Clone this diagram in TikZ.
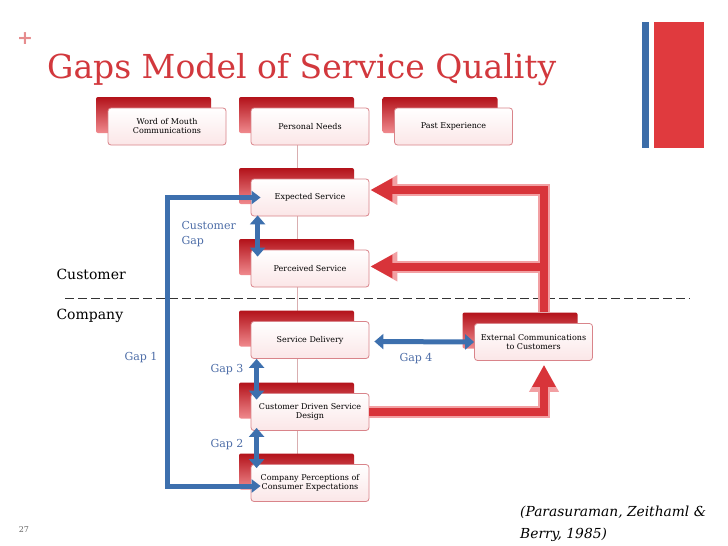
\documentclass[tikz,border=0pt]{standalone}
\usepackage{fontspec}
\setmainfont{DejaVu Serif}
\usetikzlibrary{arrows.meta,calc}
\pgfdeclarelayer{background}
\pgfsetlayers{background,main}
\definecolor{titlered}{HTML}{D2383D}
\definecolor{plusred}{HTML}{E68C8E}
\definecolor{barblue}{HTML}{3C6DA8}
\definecolor{barred}{HTML}{E03A3E}
\definecolor{backtop}{HTML}{B3121A}
\definecolor{backbot}{HTML}{F08A8E}
\definecolor{frontline}{HTML}{D9848A}
\definecolor{frontbot}{HTML}{FBE6E7}
\definecolor{gapblue}{HTML}{3D70AE}
\definecolor{labblue}{HTML}{4E6EA8}
\definecolor{arrred}{HTML}{D8343A}
\definecolor{arredge}{HTML}{F2A0A3}
\definecolor{thinpink}{HTML}{D9AEB0}
\tikzset{
  frontbox/.style={draw=frontline, line width=0.8pt, rounded corners=3pt,
    top color=white, bottom color=frontbot, minimum width=118pt, minimum height=37pt,
    align=center, inner sep=1pt, font=\fontsize{8}{9}\selectfont},
  redout/.style={line join=miter, draw=arredge, line width=12pt,
    -{Triangle[width=28pt,length=27pt]}},
  redcore/.style={line join=miter, draw=arrred, line width=8pt,
    -{Triangle[width=22pt,length=22pt]}},
  gaparrow/.style={draw=gapblue, line width=5pt,
    {Triangle[width=15pt,length=9pt]}-{Triangle[width=15pt,length=9pt]}},
  g1arrow/.style={draw=gapblue, line width=5pt, line join=miter,
    {Triangle[width=13pt,length=9pt]}-{Triangle[width=13pt,length=9pt]}},
  gaplabel/.style={text=labblue, font=\fontsize{11}{15}\selectfont, align=left},
  sidelabel/.style={text=black, font=\fontsize{14}{16}\selectfont, anchor=west},
  thinline/.style={draw=thinpink, line width=0.8pt},
  dashline/.style={draw=black!80, line width=0.9pt, dash pattern=on 9pt off 4pt}
}
\newcommand{\gapsbox}[4]{%
  \shade[top color=backtop, bottom color=backbot, rounded corners=2pt]
    (#2-71,#3-29.5) rectangle (#2+44,#3+6.5);
  \node[frontbox] (#1) at (#2,#3) {#4};
}
\begin{document}
\begin{tikzpicture}[x=1pt,y=-1pt]
\useasboundingbox (0,0) rectangle (728,546);
% title and decorations
\node[text=plusred, font=\bfseries\fontsize{19}{19}\selectfont] (plus) at (25,39) {+};
\node[text=titlered, anchor=base west, inner sep=0pt, font=\fontsize{33}{36}\selectfont] (title) at (47,78) {Gaps Model of Service Quality};
\fill[barblue] (642,22) rectangle (649,148);
\fill[barred] (654,22) rectangle (704,148);
% boxes
\gapsbox{wom}{167}{126.5}{Word of Mouth\\Communications}
\gapsbox{pn}{310}{126.5}{Personal Needs}
\gapsbox{pe}{453.5}{126.5}{Past Experience}
\gapsbox{es}{310}{197.5}{Expected Service}
\gapsbox{ps}{310}{268.5}{Perceived Service}
\gapsbox{sd}{310}{340}{Service Delivery}
\gapsbox{ec}{533.5}{342}{External Communications\\to Customers}
\gapsbox{cd}{310}{412}{Customer Driven Service\\Design}
\gapsbox{cp}{310}{483}{Company Perceptions of\\Consumer Expectations}
% background layer
\begin{pgfonlayer}{background}
\fill[white] (0,0) rectangle (728,546);
\draw[thinline] ($(pn.south)+(-13,0)$) -- ($(cp.north)+(-13,0)$);
\end{pgfonlayer}
% divider
\coordinate (dl) at (65,298);
\coordinate (dr) at (690,298);
\draw[dashline] (dl) -- (dr);
\node[sidelabel] (cust) at (53,274) {Customer};
\node[sidelabel] (comp) at (53,316) {Company};
% red arrows
\coordinate (ecin) at ($(ec.north)+(10.5,-11)$);
\coordinate (esin) at ($(es.east)+(1,-7.5)$);
\coordinate (psin) at ($(ps.east)+(1,-2)$);
\coordinate (ecout) at ($(ec.south)+(10.5,4)$);
\draw[redout] (ecin) |- (esin);
\draw[redout] (ecin) |- (psin);
\draw[redout] (cd.east) -| (ecout);
\draw[redcore] (ecin) |- (esin);
\draw[redcore] (ecin) |- (psin);
\draw[redcore] (cd.east) -| (ecout);
% blue gap arrows
\coordinate (g1) at ($(es.west)+(-83,0)$);
\draw[g1arrow] ($(es.west)+(10,0)$) -- (g1) |- ($(cp.west)+(10,3)$);
\draw[gaparrow] ($(es.south west)+(7,-1)$) -- ($(ps.north west)+(7,7)$);
\draw[gaparrow] ($(sd.south west)+(6,0)$) -- ($(cd.north west)+(6,6.5)$);
\draw[gaparrow] ($(cd.south west)+(6,-3)$) -- ($(cp.north west)+(6,4)$);
\draw[gaparrow] ($(sd.east)+(5,1.5)$) -- ($(ec.west)+(0,0)$);
% gap labels
\node[gaplabel, anchor=west] (lcg) at (178,234.5) {Customer\\Gap};
\node[gaplabel] (lg1) at (141,358) {Gap 1};
\node[gaplabel] (lg3) at (227,370) {Gap 3};
\node[gaplabel] (lg2) at (227,445) {Gap 2};
\node[gaplabel] (lg4) at (416,359) {Gap 4};
% citation
\node[anchor=base west, inner sep=0pt, font=\itshape\fontsize{13.8}{16}\selectfont] (cit1) at (520,516) {(Parasuraman, Zeithaml \&};
\node[anchor=base west, inner sep=0pt, font=\itshape\fontsize{13.8}{16}\selectfont] (cit2) at (520,538) {Berry, 1985)};
\node[text=black!60, font=\fontsize{8}{9}\selectfont] (pg) at (24,530) {27};
\end{tikzpicture}
\end{document}
